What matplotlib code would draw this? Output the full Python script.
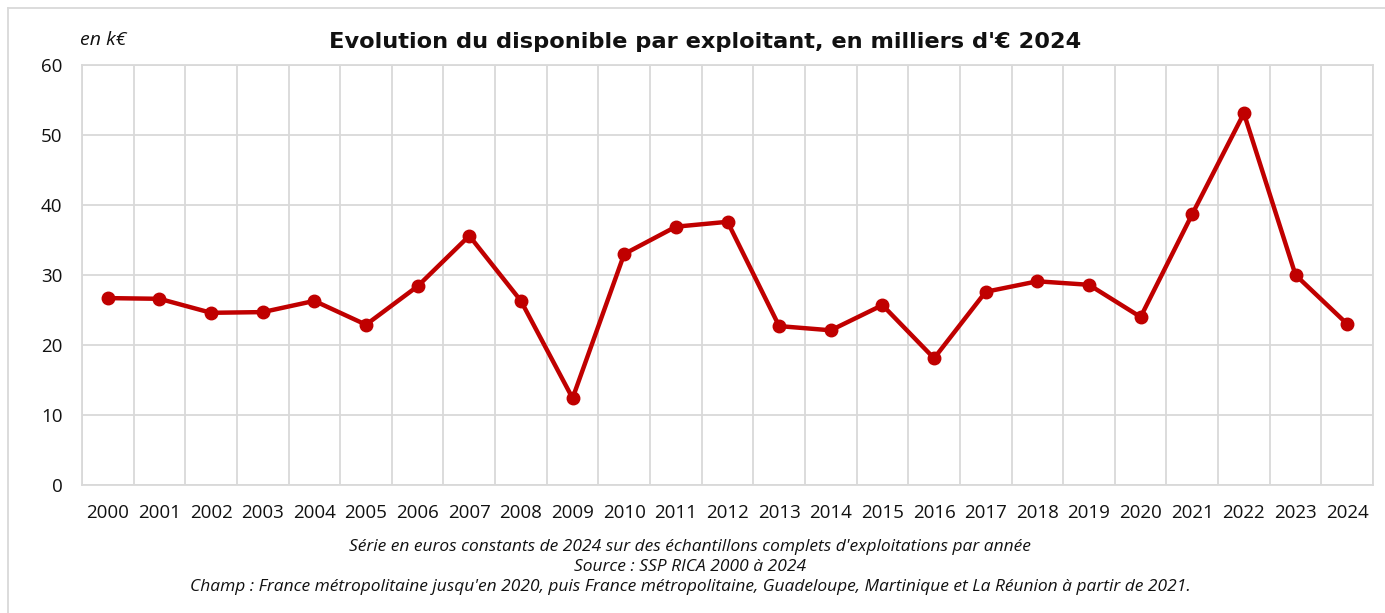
import matplotlib.pyplot as plt
from matplotlib.lines import Line2D

years = [str(y) for y in range(2000, 2025)]
disponible = [26.7, 26.6, 24.6, 24.7, 26.3, 22.9, 28.4, 35.6, 26.3, 12.4,
              33.0, 36.9, 37.6, 22.7, 22.1, 25.7, 18.1, 27.6, 29.1, 28.6,
              24.0, 38.7, 53.1, 30.0, 23.0]

notes = [
    "Série en euros constants de 2024 sur des échantillons complets d'exploitations par année",
    "Source : SSP RICA 2000 à 2024",
    "Champ : France métropolitaine jusqu'en 2020, puis France métropolitaine, Guadeloupe, "
    "Martinique et La Réunion à partir de 2021.",
]

plt.rcParams['font.family'] = ['Open Sans', 'DejaVu Sans']

fig = plt.figure(figsize=(13.85, 6.13), dpi=100)
ax = fig.add_axes([82 / 1385, 1 - 485 / 613, (1373 - 82) / 1385, 420 / 613])

x = list(range(len(years)))
ax.plot(x, disponible, color='#C00000', lw=3.2, marker='o', ms=9,
        solid_joinstyle='round', zorder=3)

ax.set_xlim(-0.5, len(years) - 0.5)
ax.set_ylim(0, 60)
ax.set_yticks(range(0, 61, 10))
ax.set_xticks(x)
ax.set_xticklabels(years)
ax.set_xticks([i - 0.5 for i in range(len(years) + 1)], minor=True)
ax.grid(True, axis='y', color='#d9d9d9', lw=1.3)
ax.grid(True, axis='x', which='minor', color='#d9d9d9', lw=1.3)
ax.set_axisbelow(True)
ax.tick_params(axis='both', which='both', length=0, labelsize=13.5, colors='#111111')
ax.tick_params(axis='x', pad=14)
ax.tick_params(axis='y', pad=14)
for s in ax.spines.values():
    s.set_color('#d9d9d9')
    s.set_linewidth(1.3)

fig.text(705 / 1385, 1 - 42 / 613, "Evolution du disponible par exploitant, en milliers d'€ 2024",
         ha='center', va='center', fontsize=16.2, fontweight='bold', color='#111111',
         family='DejaVu Sans')
fig.text(80 / 1385, 1 - 40 / 613, "en k€", ha='left', va='center', fontsize=14,
         style='italic', color='#111111')

for i, t in enumerate(notes):
    fig.text(690 / 1385, 1 - (547 + i * 20) / 613, t, ha='center', va='center',
             fontsize=12.5, style='italic', color='#111111')

# cadre gris (haut et gauche seulement, le reste est rogné)
fig.lines.append(Line2D([8 / 1385, 8 / 1385], [0, 1 - 8 / 613], transform=fig.transFigure,
                        color='#d9d9d9', lw=1.3))
fig.lines.append(Line2D([8 / 1385, 1], [1 - 8 / 613, 1 - 8 / 613], transform=fig.transFigure,
                        color='#d9d9d9', lw=1.3))

fig.savefig('out.png', dpi=100)
